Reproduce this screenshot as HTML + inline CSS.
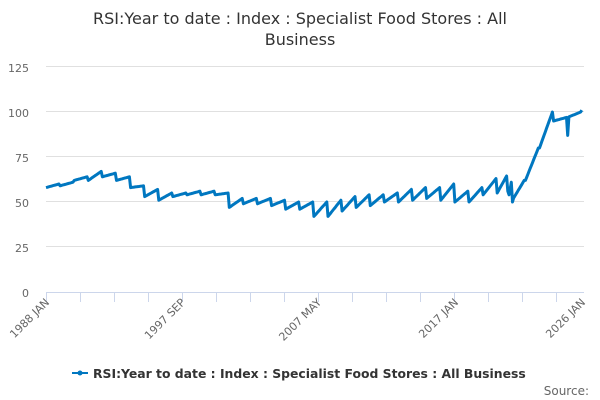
<!DOCTYPE html>
<html><head><meta charset="utf-8"><style>
body{margin:0;background:#fff;}
svg{display:block;font-family:"DejaVu Sans","Liberation Sans",sans-serif;}
</style></head><body>
<svg width="600" height="400" viewBox="0 0 600 400">
<text x="300" y="24" text-anchor="middle" font-size="16" fill="#333">RSI:Year to date : Index : Specialist Food Stores : All</text>
<text x="300" y="45" text-anchor="middle" font-size="16" fill="#333">Business</text>
<g stroke="#e0e0e0" stroke-width="1">
<line x1="46" x2="584" y1="66.5" y2="66.5"/><line x1="46" x2="584" y1="111.5" y2="111.5"/>
<line x1="46" x2="584" y1="156.5" y2="156.5"/><line x1="46" x2="584" y1="201.5" y2="201.5"/>
<line x1="46" x2="584" y1="246.5" y2="246.5"/>
</g>
<line x1="46" x2="584" y1="292.5" y2="292.5" stroke="#ccd6eb"/>
<g stroke="#ccd6eb" id="ticks"></g>
<g font-size="11" fill="#666" text-anchor="end">
<text x="29" y="297">0</text><text x="29" y="252">25</text><text x="29" y="207">50</text>
<text x="29" y="162">75</text><text x="29" y="117">100</text><text x="29" y="72">125</text>
</g>
<g font-size="11" fill="#666" text-anchor="end">
<text transform="translate(50,303) rotate(-45)">1988 JAN</text>
<text transform="translate(186,303) rotate(-45)">1997 SEP</text>
<text transform="translate(322,303) rotate(-45)">2007 MAY</text>
<text transform="translate(459,303) rotate(-45)">2017 JAN</text>
<text transform="translate(586,303) rotate(-45)">2026 JAN</text>
</g>
<path id="ser" fill="none" stroke="#0077c0" stroke-width="3" stroke-linejoin="round"/>
<line x1="72" x2="88" y1="373" y2="373" stroke="#0077c0" stroke-width="2"/>
<circle cx="80" cy="373" r="2.5" fill="#0077c0"/>
<text x="93" y="378" font-size="12.4" font-weight="bold" fill="#333">RSI:Year to date : Index : Specialist Food Stores : All Business</text>
<text x="589" y="395" font-size="12" fill="#666" text-anchor="end">Source:</text>
</svg>
<script>
var t=document.getElementById('ticks'),s='';
for(var x=46;x<=584;x+=34){s+='<line x1="'+(x+.5)+'" x2="'+(x+.5)+'" y1="292" y2="302"/>';}
t.innerHTML=s;
var yrs=[[58,60],[59,61],[62,64],[62,67],[64,66],[62,64],[58,59],[53,57],[51,55],[53,55],[54,56],[54,56],[54,55],[47,52],[49,52],[49,52],[48,51],[46,50],[46,50],[42,50],[42,51],[45,53],[47,54],[48,54],[50,55],[50,57],[51,58],[52,58],[51,60],[50,56],[50,58],[54,63],[55,68],[50,62],[62,80],[80,100],[95,97],[97,100],[101,101]];
var d='';
function X(y,m){return 46+(y+m/12)*14.1;}
function Y(v){return 292-1.8*v;}
for(var i=0;i<yrs.length;i++){
 var a=yrs[i][0],b=yrs[i][1],n=(i==38)?1:12;
 for(var m=0;m<n;m++){
  var v=a+(b-a)*m/11;
  if(i==32&&m>=9)v=[56,54,57][m-9];
  if(i==33&&m==0)v=61;
  if(i==33&&m==1)v=50;
  if(i==37&&m==0)v=87;
  d+=(d?'L':'M')+X(i,m).toFixed(1)+' '+Y(v).toFixed(1);
 }
}
document.getElementById('ser').setAttribute('d',d);
</script>
</body></html>
